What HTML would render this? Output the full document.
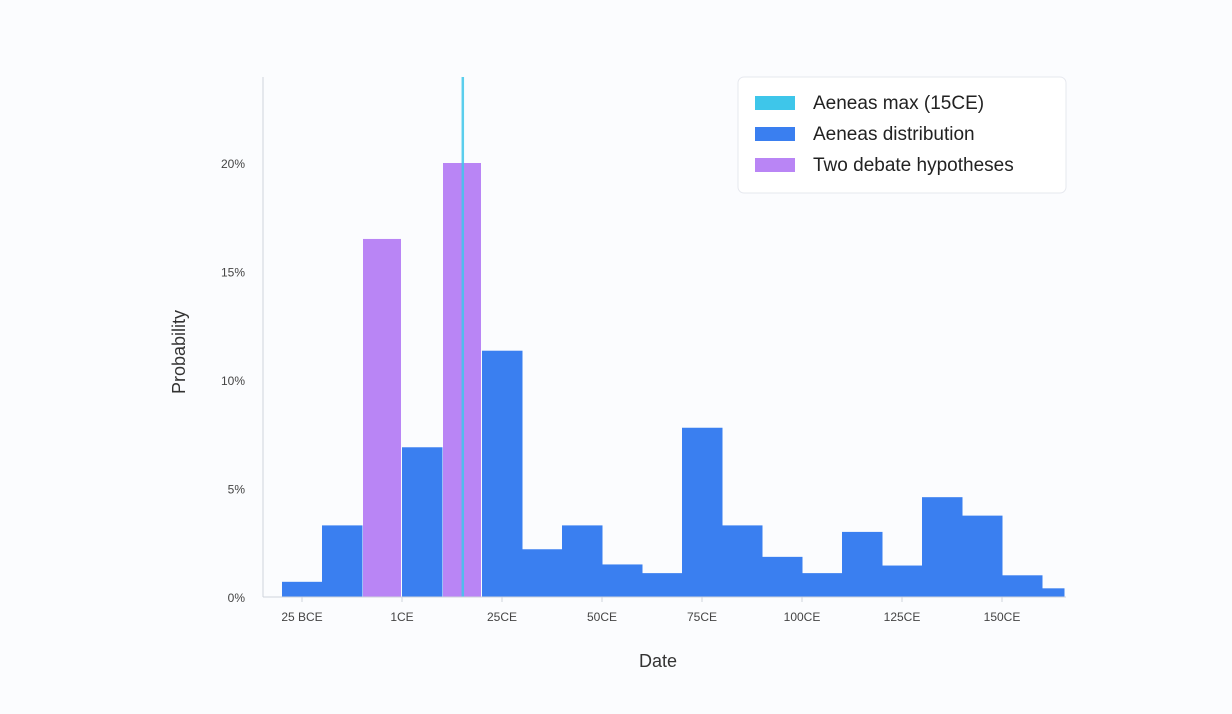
<!DOCTYPE html>
<html><head><meta charset="utf-8"><style>
body{margin:0;background:#fbfcfe;font-family:"Liberation Sans",sans-serif;}
svg{display:block}
</style></head><body>
<svg id="chart" width="1232" height="714">
<rect x="0" y="0" width="1232" height="714" fill="#fbfcfe"/>
<g id="grid"></g>
<g id="bars"></g>
<g id="marks"></g>
<g id="axes"></g>
<text x="658" y="667" font-size="18" fill="#333" text-anchor="middle">Date</text>
<text transform="translate(185,352) rotate(-90)" font-size="18" fill="#333" text-anchor="middle">Probability</text>
<g>
<rect x="738" y="77" width="328" height="116" rx="6" fill="#fff" stroke="#e6e8ee"/>
<rect x="755" y="96" width="40" height="14" fill="#3ec6ea"/>
<text x="813" y="109" font-size="19" fill="#222">Aeneas max (15CE)</text>
<rect x="755" y="127" width="40" height="14" fill="#3a7ff0"/>
<text x="813" y="140" font-size="19" fill="#222">Aeneas distribution</text>
<rect x="755" y="158" width="40" height="14" fill="#b985f5"/>
<text x="813" y="171" font-size="19" fill="#222">Two debate hypotheses</text>
</g>
</svg>
<script>
const binStarts=[-30,-20,-10,0,10,20,30,40,50,60,70,80,90,100,110,120,130,140,150,160];
const binEnds=[-20,-10,0,10,20,30,40,50,60,70,80,90,100,110,120,130,140,150,160,165.5];
const blueValues=[0.7,3.3,0,6.9,0,11.35,2.2,3.3,1.5,1.1,7.8,3.3,1.85,1.1,3.0,1.45,4.6,3.75,1.0,0.4];
const purpleValues=[0,0,16.5,0,20,0,0,0,0,0,0,0,0,0,0,0,0,0,0,0];
const maxYear=[15.2];
const xTickYears=[-25,0,25,50,75,100,125,150];
const xTickLabels=["25 BCE","1CE","25CE","50CE","75CE","100CE","125CE","150CE"];
const yTicks=[0,5,10,15,20];
const yTickLabels=["0%","5%","10%","15%","20%"];
const NS="http://www.w3.org/2000/svg";
const x=y=>402+4*y;
const yS=v=>597-21.7*v;
function mk(tag,attrs,parent){const e=document.createElementNS(NS,tag);for(const k in attrs)e.setAttribute(k,attrs[k]);parent.appendChild(e);return e;}
const bars=document.getElementById('bars'),marks=document.getElementById('marks'),axes=document.getElementById('axes');
binStarts.forEach((s,i)=>{
  const x0=x(s),x1=x(binEnds[i]);
  if(blueValues[i]>0){const r=mk('rect',{x:x0,y:yS(blueValues[i]),width:x1-x0+0.5,height:597-yS(blueValues[i]),fill:'#3a7ff0'},bars);
    
    }
  if(purpleValues[i]>0){const r=mk('rect',{x:x0+1,y:yS(purpleValues[i]),width:x1-x0-2,height:597-yS(purpleValues[i]),fill:'#b985f5'},bars);
    
    }
});
maxYear.forEach(m=>{const l=mk('line',{x1:x(m),x2:x(m),y1:77,y2:597,stroke:'#3ec6ea','stroke-width':2.5,'stroke-opacity':0.85},marks);
  
  });
const ya=mk('line',{x1:263,x2:263,y1:77,y2:597,stroke:'#cfd3dc','stroke-width':1},axes);


const xa=mk('line',{x1:263,x2:1066,y1:597,y2:597,stroke:'#cfd3dc','stroke-width':1},axes);


yTicks.forEach((v,i)=>{const t=mk('text',{x:245,y:yS(v)+5,'font-size':12,fill:'#444','text-anchor':'end'},axes);t.textContent=yTickLabels[i];
  
  });
xTickYears.forEach((v,i)=>{const tk=mk('line',{x1:x(v),x2:x(v),y1:597,y2:602,stroke:'#cfd3dc'},axes);
  
  
  const t=mk('text',{x:x(v),y:621,'font-size':12,fill:'#444','text-anchor':'middle'},axes);t.textContent=xTickLabels[i];
  
  });
</script>
</body></html>
